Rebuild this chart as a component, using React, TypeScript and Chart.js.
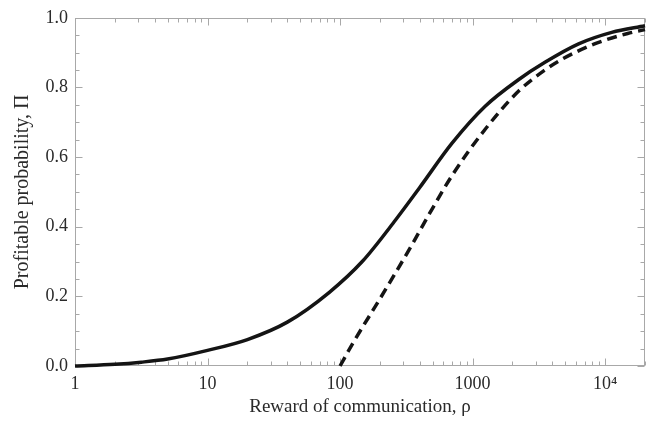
import React, { useEffect, useRef } from 'react';
import Chart from 'chart.js/auto';

// Solid curve: reward of communication rho vs profitable probability
const SOLID_RHO = [1, 2, 3.16, 5, 10, 20, 40, 82.6, 147, 263, 398, 700, 1245, 2218, 3516, 6310, 11220, 20000];
const SOLID_PI = [0, 0.005, 0.011, 0.02, 0.045, 0.076, 0.126, 0.211, 0.3, 0.42, 0.512, 0.64, 0.746, 0.822, 0.872, 0.925, 0.958, 0.977];

// Dashed curve
const DASHED_RHO = [100, 126, 196, 350, 467, 700, 1245, 2218, 3516, 4677, 8318, 14791, 20000];
const DASHED_PI = [0, 0.068, 0.1875, 0.349, 0.434, 0.547, 0.68, 0.789, 0.85, 0.88, 0.925, 0.955, 0.966];

const X_TICKS = [1, 10, 100, 1000, 10000];
const X_TICK_LABELS = ['1', '10', '100', '1000', '10\u2074'];
const Y_TICKS = [0, 0.2, 0.4, 0.6, 0.8, 1.0];
const X_TITLE = 'Reward of communication, \u03C1';
const Y_TITLE = 'Profitable probability, \u03A0';

const AXIS_COLOR = '#a8a8a8';
const TEXT_COLOR = '#2a2a2a';
const LINE_COLOR = '#141414';
const FONT_FAMILY = '"Liberation Serif", "Times New Roman", serif';

const frameTicks = {
  id: 'frameTicks',
  beforeDatasetsDraw(chart: any) {
    const { ctx, chartArea: a, scales } = chart;
    const xs = scales.x;
    const ys = scales.y;
    ctx.save();
    ctx.strokeStyle = AXIS_COLOR;
    ctx.lineWidth = 1;
    const line = (x1: number, y1: number, x2: number, y2: number) => {
      ctx.beginPath();
      ctx.moveTo(x1, y1);
      ctx.lineTo(x2, y2);
      ctx.stroke();
    };
    const L = Math.round(a.left) + 0.5;
    const R = Math.round(a.right) - 0.5;
    const T = Math.round(a.top) + 0.5;
    const B = Math.round(a.bottom) - 0.5;
    ctx.strokeRect(L, T, R - L, B - T);
    // x ticks (major at decades, minor at 2..9)
    for (let d = 0; d <= 5; d++) {
      for (let m = 1; m <= 9; m++) {
        const v = m * Math.pow(10, d);
        if (v > xs.max) break;
        const px = Math.round(xs.getPixelForValue(v)) + 0.5;
        const len = m === 1 ? 7 : 4;
        line(px, B, px, B - len);
        line(px, T, px, T + len);
      }
    }
    // y ticks (major every 0.2, minor every 0.05)
    for (let i = 0; i <= 20; i++) {
      const v = i * 0.05;
      const py = Math.round(ys.getPixelForValue(v)) + 0.5;
      const len = i % 4 === 0 ? 7 : 4;
      line(L, py, L + len, py);
      line(R, py, R - len, py);
    }
    ctx.restore();
  },
};

export default function App() {
  const ref = useRef<HTMLCanvasElement | null>(null);

  useEffect(() => {
    if (!ref.current) return;
    const solid = SOLID_RHO.map((x, i) => ({ x, y: SOLID_PI[i] }));
    const dashed = DASHED_RHO.map((x, i) => ({ x, y: DASHED_PI[i] }));
    const chart = new Chart(ref.current, {
      type: 'line',
      data: {
        datasets: [
          {
            data: solid,
            borderColor: LINE_COLOR,
            borderWidth: 3.5,
            pointRadius: 0,
            fill: false,
            cubicInterpolationMode: 'monotone',
          },
          {
            data: dashed,
            borderColor: LINE_COLOR,
            borderWidth: 3.5,
            borderDash: [10, 6],
            pointRadius: 0,
            fill: false,
            cubicInterpolationMode: 'monotone',
          },
        ],
      },
      options: {
        responsive: false,
        animation: false,
        clip: false as any,
        layout: { padding: { top: 14, right: 7, left: 0, bottom: 0 } },
        plugins: { legend: { display: false }, tooltip: { enabled: false } },
        scales: {
          x: {
            type: 'logarithmic',
            min: 1,
            max: 20000,
            grid: { display: false, drawTicks: false },
            border: { display: false },
            afterBuildTicks: (s: any) => {
              s.ticks = X_TICKS.map((v) => ({ value: v }));
            },
            afterFit: (s: any) => {
              s.height = 71;
            },
            ticks: {
              autoSkip: false,
              maxRotation: 0,
              padding: 7,
              color: TEXT_COLOR,
              font: { family: FONT_FAMILY, size: 18 },
              callback: (v: any) => {
                const i = X_TICKS.indexOf(Number(v));
                return i >= 0 ? X_TICK_LABELS[i] : '';
              },
            },
            title: {
              display: true,
              text: X_TITLE,
              color: TEXT_COLOR,
              font: { family: FONT_FAMILY, size: 19 },
              padding: { top: 0, bottom: 19 },
            },
          },
          y: {
            type: 'linear',
            min: 0,
            max: 1,
            grid: { display: false, drawTicks: false },
            border: { display: false },
            afterBuildTicks: (s: any) => {
              s.ticks = Y_TICKS.map((v) => ({ value: v }));
            },
            afterFit: (s: any) => {
              s.width = 75;
            },
            ticks: {
              padding: 7,
              color: TEXT_COLOR,
              font: { family: FONT_FAMILY, size: 18 },
              callback: (v: any) => Number(v).toFixed(1),
            },
            title: {
              display: true,
              text: Y_TITLE,
              color: TEXT_COLOR,
              font: { family: FONT_FAMILY, size: 20 },
              padding: { top: 11, bottom: 0 },
            },
          },
        },
      },
      plugins: [frameTicks],
    } as any);
    return () => chart.destroy();
  }, []);

  return (
    <div style={{ position: 'absolute', left: 0, top: 0, width: 652, height: 437, background: '#fff' }}>
      <canvas ref={ref} width={652} height={437} />
    </div>
  );
}
